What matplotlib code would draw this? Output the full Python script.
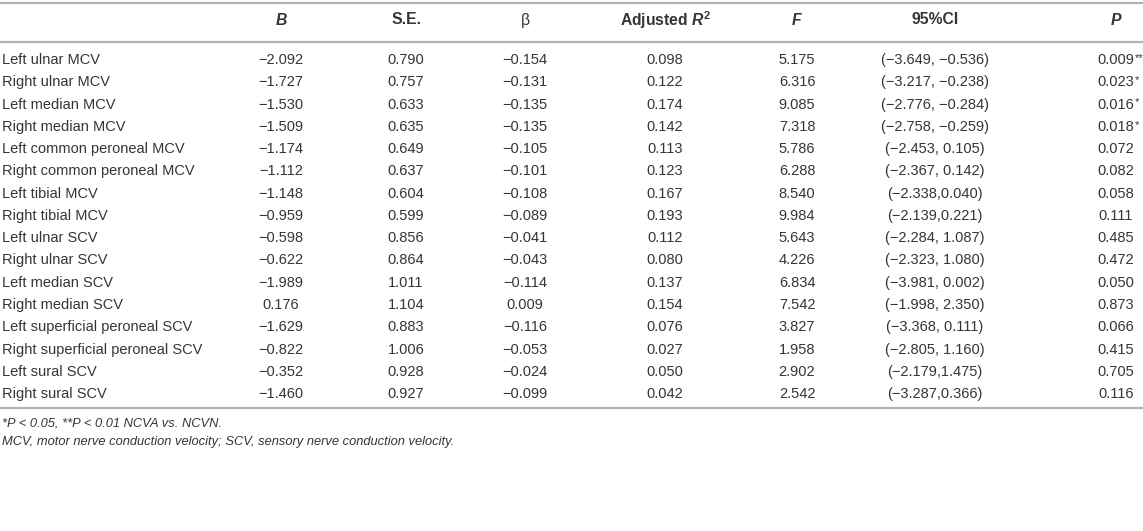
import matplotlib.pyplot as plt

plt.rcParams['font.family'] = ['Liberation Sans', 'DejaVu Sans']
plt.rcParams['mathtext.fontset'] = 'custom'
plt.rcParams['mathtext.rm'] = 'Liberation Sans'
plt.rcParams['mathtext.it'] = 'Liberation Sans:italic'
plt.rcParams['mathtext.bf'] = 'Liberation Sans:bold'
plt.rcParams['mathtext.bfit'] = 'Liberation Sans:bold:italic'

# donnees du tableau
rows = ['Left ulnar MCV', 'Right ulnar MCV', 'Left median MCV', 'Right median MCV',
        'Left common peroneal MCV', 'Right common peroneal MCV', 'Left tibial MCV',
        'Right tibial MCV', 'Left ulnar SCV', 'Right ulnar SCV', 'Left median SCV',
        'Right median SCV', 'Left superficial peroneal SCV', 'Right superficial peroneal SCV',
        'Left sural SCV', 'Right sural SCV']
B = [-2.092, -1.727, -1.530, -1.509, -1.174, -1.112, -1.148, -0.959,
     -0.598, -0.622, -1.989, 0.176, -1.629, -0.822, -0.352, -1.460]
SE = [0.790, 0.757, 0.633, 0.635, 0.649, 0.637, 0.604, 0.599,
      0.856, 0.864, 1.011, 1.104, 0.883, 1.006, 0.928, 0.927]
beta = [-0.154, -0.131, -0.135, -0.135, -0.105, -0.101, -0.108, -0.089,
        -0.041, -0.043, -0.114, 0.009, -0.116, -0.053, -0.024, -0.099]
adj_r2 = [0.098, 0.122, 0.174, 0.142, 0.113, 0.123, 0.167, 0.193,
          0.112, 0.080, 0.137, 0.154, 0.076, 0.027, 0.050, 0.042]
F = [5.175, 6.316, 9.085, 7.318, 5.786, 6.288, 8.540, 9.984,
     5.643, 4.226, 6.834, 7.542, 3.827, 1.958, 2.902, 2.542]
ci = ['(−3.649, −0.536)', '(−3.217, −0.238)', '(−2.776, −0.284)', '(−2.758, −0.259)',
      '(−2.453, 0.105)', '(−2.367, 0.142)', '(−2.338,0.040)', '(−2.139,0.221)',
      '(−2.284, 1.087)', '(−2.323, 1.080)', '(−3.981, 0.002)', '(−1.998, 2.350)',
      '(−3.368, 0.111)', '(−2.805, 1.160)', '(−2.179,1.475)', '(−3.287,0.366)']
P = [0.009, 0.023, 0.016, 0.018, 0.072, 0.082, 0.058, 0.111,
     0.485, 0.472, 0.050, 0.873, 0.066, 0.415, 0.705, 0.116]
stars = ['**', '*', '*', '*', '', '', '', '', '', '', '', '', '', '', '', '']

headers = [r'$\mathbfit{B}$', 'S.E.', 'β', r'Adjusted $\mathbfit{R}^{\mathbf{2}}$',
           r'$\mathbfit{F}$', '95%CI', r'$\mathbfit{P}$']
col_x = [281, 406, 525, 665, 797, 935, 1116]

def fmt(v):
    return f'{v:.3f}'.replace('-', '−')

txt_color = '#353535'
line_color = '#b4b4b4'

fig = plt.figure(figsize=(11.43, 5.31), dpi=100)
ax = fig.add_axes([0, 0, 1, 1])
ax.set_xlim(0, 1143)
ax.set_ylim(531, 0)
ax.axis('off')

# lignes horizontales
for y in [3, 42, 408]:
    ax.plot([0, 1143], [y, y], color=line_color, lw=1.6, solid_capstyle='butt')

# en-tetes
for x, h in zip(col_x, headers):
    weight = 'normal' if h == 'β' else 'bold'
    ax.text(x, 20, h, ha='center', va='center', fontsize=11.3, fontweight=weight, color=txt_color)

# lignes du tableau
y0, dy = 60, 22.27
for i, name in enumerate(rows):
    y = y0 + i * dy
    ax.text(2, y, name, ha='left', va='center', fontsize=10.5, color=txt_color)
    vals = [fmt(B[i]), fmt(SE[i]), fmt(beta[i]), fmt(adj_r2[i]), fmt(F[i]), ci[i]]
    for x, v in zip(col_x[:-1], vals):
        ax.text(x, y, v, ha='center', va='center', fontsize=10.5, color=txt_color)
    t = ax.text(col_x[-1], y, fmt(P[i]), ha='center', va='center', fontsize=10.5, color=txt_color)
    if stars[i]:
        ax.annotate(stars[i], xy=(1, 1), xycoords=t, ha='left', va='top',
                    fontsize=8, color=txt_color)

# notes
ax.text(2, 424, '*P < 0.05, **P < 0.01 NCVA vs. NCVN.', ha='left', va='center',
        fontsize=9.3, style='italic', color=txt_color)
ax.text(2, 442, 'MCV, motor nerve conduction velocity; SCV, sensory nerve conduction velocity.',
        ha='left', va='center', fontsize=9.3, style='italic', color=txt_color)

fig.savefig('out.png', dpi=100)
